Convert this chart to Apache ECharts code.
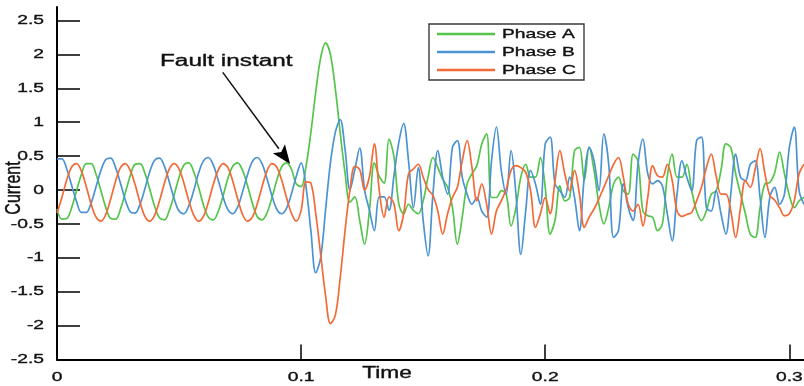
<!DOCTYPE html>
<html>
<head>
<meta charset="utf-8">
<script src="https://cdn.jsdelivr.net/npm/echarts@6/dist/echarts.min.js"></script>
<style>
  html, body { margin: 0; padding: 0; background: #ffffff; }
  #chart { width: 804px; height: 386px; }
</style>
</head>
<body>
<div id="chart"></div>
<script>
// Three-phase currents sampled every 2 ms; the fault occurs at about t = 0.1 s.
const sampleStep = 0.002;

const phaseA = [
  -0.28, -0.43, -0.42, -0.26, -0.01, 0.23, 0.39, 0.39, 0.23, -0.01,
  -0.26, -0.42, -0.43, -0.28, -0.04, 0.21, 0.38, 0.39, 0.25, 0.01,
  -0.24, -0.41, -0.44, -0.30, -0.07, 0.19, 0.37, 0.40, 0.27, 0.04,
  -0.22, -0.40, -0.44, -0.32, -0.09, 0.17, 0.35, 0.40, 0.29, 0.07,
  -0.19, -0.39, -0.44, -0.34, -0.12, 0.14, 0.34, 0.40, 0.31, 0.09,
  0.05, 0.35, 0.85, 1.45, 1.95, 2.17, 2.00, 1.50, 0.85, 0.25,
  -0.18, -0.10, -0.45, -0.80, -0.30, 0.40, 0.20, 0.10, 0.75, 0.50,
  -0.20, -0.35, -0.21, -0.30, -0.35, -0.16, 0.19, 0.48, 0.33, 0.16,
  0.04, -0.26, -0.80, -0.40, 0.09, 0.24, 0.36, 0.68, 0.83, -0.11,
  -0.11, -0.01, -0.06, -0.53, -0.26, 0.19, 0.38, 0.19, 0.19, 0.48,
  0.04, -0.65, -0.45, 0.06, -0.16, -0.11, 0.58, 0.63, 0.14, 0.63,
  0.29, -0.21, -0.50, -0.26, 0.09, 0.19, -0.01, -0.06, 0.53, 0.43,
  -0.31, -0.38, -0.40, -0.60, -0.50, 0.20, 0.53, 0.19, 0.19, 0.38,
  -0.01, -0.31, -0.45, -0.31, -0.06, -0.01, 0.29, 0.68, 0.63, 0.24,
  -0.06, -0.35, -0.65, -0.70, -0.26, 0.09, 0.11, 0.26, 0.56, 0.24,
  -0.08, -0.26, -0.16, -0.11
];

const phaseB = [
  0.46, 0.46, 0.31, 0.07, -0.17, -0.33, -0.33, -0.19, 0.05, 0.29,
  0.45, 0.47, 0.33, 0.10, -0.15, -0.32, -0.34, -0.21, 0.02, 0.27,
  0.44, 0.47, 0.35, 0.12, -0.13, -0.31, -0.35, -0.23, -0.01, 0.25,
  0.43, 0.48, 0.37, 0.15, -0.10, -0.29, -0.35, -0.25, -0.03, 0.22,
  0.42, 0.48, 0.39, 0.17, -0.08, -0.28, -0.35, -0.27, -0.06, 0.20,
  0.40, 0.05, -0.60, -1.22, -1.00, -0.30, 0.40, 0.85, 1.04, 0.60,
  0.00, 0.30, 0.62, 0.00, -0.30, -0.60, -0.10, -0.10, -0.30, 0.20,
  0.70, 0.98, 0.43, -0.26, 0.33, -0.45, -0.97, -0.06, 0.58, 0.19,
  -0.06, 0.63, 0.73, 0.19, -0.06, -0.21, -0.11, -0.31, -0.40, 0.43,
  0.93, 0.29, -0.06, 0.58, -0.06, -0.95, -0.31, 0.29, 0.09, -0.21,
  0.68, 0.78, 0.09, -0.01, -0.11, 0.19, -0.11, -0.60, 0.19, 0.63,
  0.43, -0.01, 0.83, 0.38, -0.70, -0.60, 0.09, -0.26, -0.45, 0.38,
  0.75, 0.24, 0.09, 0.14, 0.06, -0.35, -0.75, -0.06, 0.43, 0.19,
  -0.01, 0.73, 0.78, -0.26, -0.31, -0.01, -0.35, -0.65, -0.06, 0.53,
  0.19, 0.14, 0.38, 0.43, -0.11, -0.70, -0.11, 0.04, -0.21, -0.06,
  0.63, 0.93, -0.01, -0.21
];

const phaseC = [
  -0.34, -0.11, 0.15, 0.34, 0.39, 0.28, 0.05, -0.21, -0.40, -0.46,
  -0.36, -0.13, 0.13, 0.33, 0.39, 0.29, 0.08, -0.18, -0.39, -0.46,
  -0.37, -0.16, 0.10, 0.31, 0.39, 0.31, 0.10, -0.16, -0.37, -0.46,
  -0.39, -0.18, 0.08, 0.29, 0.39, 0.33, 0.13, -0.13, -0.36, -0.46,
  -0.40, -0.21, 0.05, 0.28, 0.39, 0.34, 0.15, -0.11, -0.34, -0.46,
  -0.30, 0.12, 0.10, -0.35, -0.95, -1.55, -1.97, -1.85, -1.30, -0.60,
  0.00, 0.35, 0.30, 0.00, 0.20, 0.68, 0.00, -0.40, -0.10, -0.20,
  -0.60, -0.35, 0.24, 0.31, 0.38, 0.19, 0.01, -0.08, -0.31, -0.65,
  -0.35, -0.11, 0.04, 0.43, 0.73, 0.33, -0.16, 0.09, -0.21, -0.65,
  -0.31, -0.16, 0.01, 0.29, 0.36, 0.33, 0.26, -0.01, -0.55, -0.35,
  -0.11, -0.35, 0.14, 0.58, 0.24, -0.01, 0.29, -0.06, -0.55, -0.40,
  -0.28, -0.13, 0.04, 0.21, 0.38, 0.48, 0.19, -0.21, -0.31, -0.21,
  -0.53, -0.11, 0.36, 0.21, 0.19, 0.38, 0.14, -0.31, -0.39, -0.36,
  -0.33, -0.16, 0.04, 0.33, 0.53, 0.21, -0.06, -0.06, -0.31, -0.70,
  -0.26, 0.14, 0.04, 0.31, 0.61, 0.24, -0.08, -0.15, -0.26, -0.38,
  -0.35, -0.16, 0.24, 0.38
];

const seriesNames = ['Phase A', 'Phase B', 'Phase C'];
const seriesColors = ['#55c44b', '#4b93d3', '#f36a36'];
const seriesValues = [phaseA, phaseB, phaseC];

const xTickValues = [0, 0.1, 0.2, 0.3];
const xTickLabels = ['0', '0.1', '0.2', '0.3'];
const yTickValues = [-2.5, -2, -1.5, -1, -0.5, 0, 0.5, 1, 1.5, 2, 2.5];
const yTickLabels = ['-2.5', '-2', '-1.5', '-1', '-0.5', '0', '0.5', '1', '1.5', '2', '2.5'];

// Arrow annotation, in data units: tail near the caption, head at the fault.
const faultArrowTail = [0.0679, 1.735];
const faultArrowHead = [0.0955, 0.384];

const chart = echarts.init(document.getElementById('chart'), null, { renderer: 'canvas' });

chart.setOption({
  animation: false,
  backgroundColor: '#ffffff',
  grid: { left: 57, right: 0, top: 7, bottom: 26.5, outerBoundsMode: 'none', containLabel: false },
  xAxis: {
    type: 'value',
    min: 0,
    max: 0.306,
    interval: 0.1,
    axisLine: { onZero: false, lineStyle: { color: '#000000', width: 2 } },
    axisTick: { inside: true, length: 15, customValues: xTickValues, lineStyle: { color: '#000000', width: 1.5 } },
    axisLabel: { show: false },
    splitLine: { show: false }
  },
  yAxis: {
    type: 'value',
    min: -2.5,
    max: 2.7,
    interval: 0.5,
    axisLine: { show: true, onZero: false, lineStyle: { color: '#000000', width: 2 } },
    axisTick: { show: true, inside: true, length: 23, customValues: yTickValues, lineStyle: { color: '#000000', width: 1.5 } },
    axisLabel: { show: false },
    splitLine: { show: false }
  },
  series: seriesValues.map((vals, i) => ({
    name: seriesNames[i],
    type: 'line',
    data: vals.map((v, k) => [k * sampleStep, v]),
    showSymbol: false,
    symbol: 'none',
    smooth: 0.35,
    lineStyle: { color: seriesColors[i], width: 1.7 },
    itemStyle: { color: seriesColors[i] },
    z: 2 + i
  }))
});

// Text is drawn horizontally widened, as in the rest of the figure.
const stretch = 1.48;
function wideText(text, x, y, size, align, extra) {
  return Object.assign({
    type: 'text',
    x: x, y: y,
    scaleX: stretch,
    z: 120,
    silent: true,
    style: {
      text: text, fontSize: size, fontFamily: 'Liberation Sans', fill: '#111111',
      stroke: '#111111', lineWidth: 0.35,
      align: align, verticalAlign: 'middle', textAlign: align, textVerticalAlign: 'middle'
    }
  }, extra || {});
}

const graphics = [];

// Tick labels placed through the axes' own scales.
yTickValues.forEach((v, i) => {
  const p = chart.convertToPixel({ gridIndex: 0 }, [0, v]);
  graphics.push(wideText(yTickLabels[i], p[0] - 13, p[1], 13, 'right'));
});
xTickValues.forEach((v, i) => {
  const p = chart.convertToPixel({ gridIndex: 0 }, [v, -2.5]);
  graphics.push(wideText(xTickLabels[i], p[0], p[1] + 17.5, 13, 'center'));
});

// Legend box.
const legendLeft = 429, legendTop = 24, legendRowGap = 18;
graphics.push({
  type: 'rect',
  shape: { x: legendLeft, y: legendTop, width: 155, height: 56 },
  style: { fill: '#ffffff', stroke: '#3a3a3a', lineWidth: 1.4 },
  z: 100,
  silent: true
});
seriesNames.forEach((name, i) => {
  const cy = legendTop + 10 + i * legendRowGap;
  graphics.push({
    type: 'line',
    shape: { x1: legendLeft + 8, y1: cy, x2: legendLeft + 66, y2: cy },
    style: { stroke: seriesColors[i], lineWidth: 2.4 },
    z: 110,
    silent: true
  });
  graphics.push(wideText(name, legendLeft + 73, cy, 13, 'left'));
});

// Axis titles.
graphics.push(wideText('Time', 387, 374, 16, 'center', { scaleX: 1.42 }));
graphics.push(wideText('Current', 14.5, 188, 16, 'center', { scaleX: 1, scaleY: 1.35, rotation: Math.PI / 2 }));

// Fault annotation with arrow.
graphics.push(wideText('Fault instant', 160, 62, 16, 'left', { scaleX: 1.52 }));
const tail = chart.convertToPixel({ gridIndex: 0 }, faultArrowTail);
const head = chart.convertToPixel({ gridIndex: 0 }, faultArrowHead);
const dx = head[0] - tail[0], dy = head[1] - tail[1];
const len = Math.sqrt(dx * dx + dy * dy);
const ux = dx / len, uy = dy / len;
const px = -uy, py = ux;
const headLen = 19, headHalf = 7.5;
const base = [head[0] - ux * headLen, head[1] - uy * headLen];
const notch = [head[0] - ux * (headLen - 4), head[1] - uy * (headLen - 4)];
graphics.push({
  type: 'line',
  shape: { x1: tail[0], y1: tail[1], x2: base[0], y2: base[1] },
  style: { stroke: '#111111', lineWidth: 1.5 },
  z: 50,
  silent: true
});
graphics.push({
  type: 'polygon',
  shape: {
    points: [
      head,
      [base[0] + px * headHalf, base[1] + py * headHalf],
      notch,
      [base[0] - px * headHalf, base[1] - py * headHalf]
    ]
  },
  style: { fill: '#000000' },
  z: 50,
  silent: true
});

chart.setOption({ graphic: graphics });
</script>
</body>
</html>
